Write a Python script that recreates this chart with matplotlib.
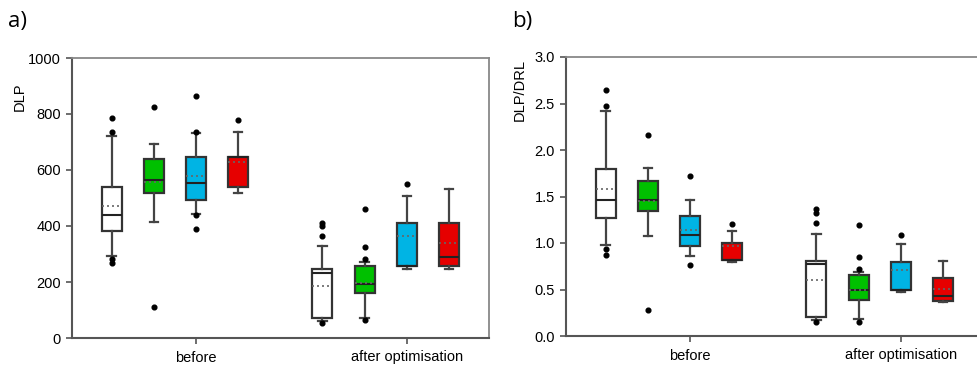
import matplotlib.pyplot as plt
import numpy as np

plt.rcParams['font.family'] = ['Liberation Sans', 'DejaVu Sans']

groups = ['before', 'after optimisation']
box_colors = ['white', '#00c000', '#00b4e4', '#e60000']

# panel a) DLP, boxes ordered: before x4, after x4
dlp_whislo = [293, 415, 442, 519, 62, 73, 246, 248]
dlp_q1 = [382, 519, 493, 540, 70, 159, 258, 258]
dlp_med = [439, 564, 552, 648, 233, 193, 258, 289]
dlp_q3 = [540, 638, 648, 648, 246, 258, 411, 411]
dlp_whishi = [721, 692, 733, 737, 330, 271, 506, 531]
dlp_mean = [471, 558, 579, 630, 187, 195, 363, 338]
dlp_fliers = [[785, 737, 281, 267], [826, 112], [864, 737, 438, 389], [777],
              [412, 400, 364, 55], [460, 326, 281, 64], [551], []]

# panel b) DLP/DRL
ratio_whislo = [0.975, 1.08, 0.86, 0.80, 0.17, 0.18, 0.47, 0.37]
ratio_q1 = [1.27, 1.34, 0.97, 0.82, 0.20, 0.39, 0.50, 0.38]
ratio_med = [1.46, 1.46, 1.09, 0.82, 0.77, 0.49, 0.50, 0.43]
ratio_q3 = [1.80, 1.67, 1.29, 1.00, 0.81, 0.66, 0.80, 0.62]
ratio_whishi = [2.42, 1.81, 1.46, 1.13, 1.10, 0.69, 0.99, 0.81]
ratio_mean = [1.58, 1.45, 1.14, 0.97, 0.60, 0.49, 0.71, 0.51]
ratio_fliers = [[2.64, 2.47, 0.94, 0.87], [2.16, 0.28], [1.72, 0.76], [1.20],
                [1.37, 1.32, 1.21, 0.15], [1.19, 0.85, 0.72, 0.15], [1.09], []]

offsets = [-2, -1, 0, 1]
step = 0.2


def draw_panel(ax, whislo, q1, med, q3, whishi, mean, fliers):
    stats = []
    pos = []
    for i in range(len(med)):
        stats.append(dict(whislo=whislo[i], q1=q1[i], med=med[i], q3=q3[i],
                          whishi=whishi[i], mean=mean[i], fliers=fliers[i]))
        pos.append(i // 4 + offsets[i % 4] * step)
    bp = ax.bxp(stats, positions=pos, widths=0.095, capwidths=0.04,
                patch_artist=True, showmeans=True, meanline=True,
                boxprops=dict(edgecolor='#333333', linewidth=1.6),
                medianprops=dict(color='#222222', linewidth=1.5),
                whiskerprops=dict(color='#444444', linewidth=1.6),
                capprops=dict(color='#444444', linewidth=1.6),
                meanprops=dict(color='#666666', linestyle=(0, (1.2, 1.8)), linewidth=1.2),
                flierprops=dict(marker='o', markerfacecolor='black',
                                markeredgecolor='black', markersize=3.4))
    for i, box in enumerate(bp['boxes']):
        box.set_facecolor(box_colors[i % 4])
    ax.set_xticks([0, 1])
    ax.set_xticklabels(groups, fontsize=10.5)
    ax.set_xlim(-0.588, 1.39)
    for s in ['left', 'bottom']:
        ax.spines[s].set_color('#555555')
        ax.spines[s].set_linewidth(1.5)
    for s in ['top', 'right']:
        ax.spines[s].set_color('#888888')
        ax.spines[s].set_linewidth(1.3)
    ax.tick_params(axis='both', direction='out', length=4, width=1.2,
                   color='#555555', labelsize=10.5, pad=4)
    ax.tick_params(axis='x', pad=5)


fig = plt.figure(figsize=(9.77, 3.65), dpi=100)

ax1 = fig.add_axes([72 / 977, 1 - 338 / 365, 417 / 977, 280 / 365])
draw_panel(ax1, dlp_whislo, dlp_q1, dlp_med, dlp_q3, dlp_whishi, dlp_mean, dlp_fliers)
ax1.set_ylim(0, 1000)
ax1.set_yticks(np.arange(0, 1001, 200))

ax2 = fig.add_axes([566 / 977, 1 - 336 / 365, 417 / 977, 279 / 365])
draw_panel(ax2, ratio_whislo, ratio_q1, ratio_med, ratio_q3, ratio_whishi, ratio_mean, ratio_fliers)
ax2.set_ylim(0, 3.0)
ax2.set_yticks(np.arange(0, 3.01, 0.5))
ax2.set_yticklabels([f'{v:.1f}' for v in np.arange(0, 3.01, 0.5)])

fig.text(20 / 977, 1 - 97 / 365, 'DLP', rotation=90, ha='center', va='center', fontsize=10.5)
fig.text(520 / 977, 1 - 90 / 365, 'DLP/DRL', rotation=90, ha='center', va='center', fontsize=10.5)
fig.text(8 / 977, 1 - 22 / 365, 'a)', ha='left', va='center', fontsize=16, family=['Open Sans', 'DejaVu Sans'])
fig.text(512 / 977, 1 - 22 / 365, 'b)', ha='left', va='center', fontsize=16, family=['Open Sans', 'DejaVu Sans'])

fig.savefig('out.png', dpi=100)
